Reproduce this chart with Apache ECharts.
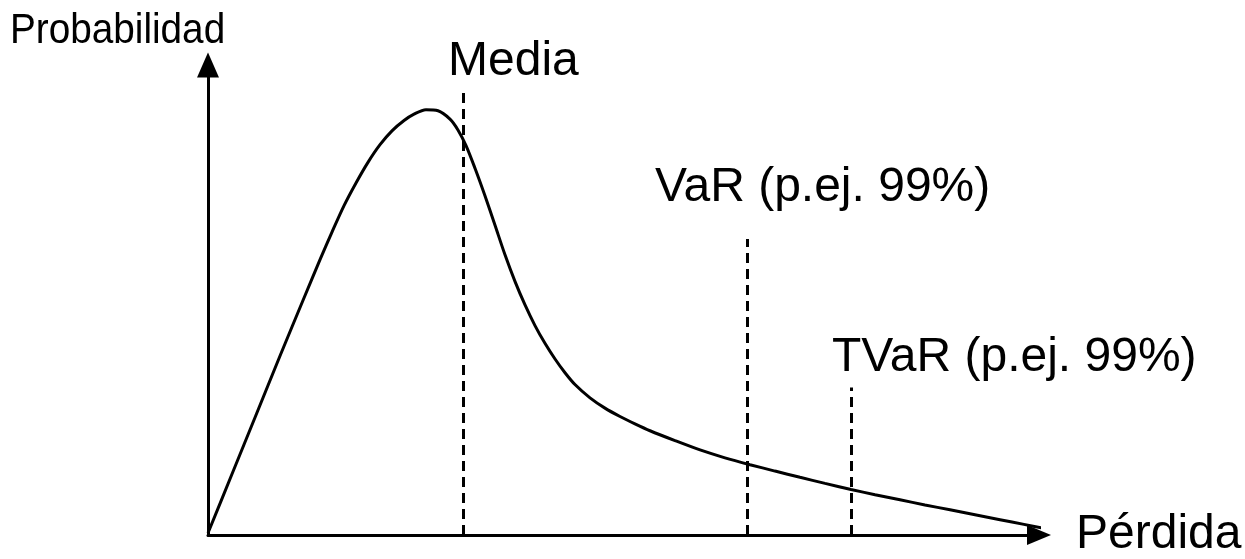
<!DOCTYPE html>
<html>
<head>
<meta charset="utf-8">
<script src="https://cdn.jsdelivr.net/npm/echarts/dist/echarts.min.js"></script>
<style>
html,body{margin:0;padding:0;background:#fff;}
#chart{width:1245px;height:559px;}
</style>
</head>
<body>
<div id="chart"></div>
<script>
// Loss axis (x) and probability density (y), arbitrary units
const lossX = [0, 2.89, 5.78, 8.66, 11.55, 13.48, 14.92, 16.37, 17.81, 19.25, 20.70, 22.14, 23.59, 24.79, 26.23, 27.68, 29.12, 30.08, 31.05, 32.13, 33.33, 34.54, 35.74, 36.94, 38.15, 39.35, 40.55, 41.76, 42.96, 44.16, 45.97, 47.77, 49.58, 51.38, 53.19, 56.20, 59.21, 62.21, 65.22, 68.23, 71.24, 74.25, 77.38, 80.27, 83.27, 86.28, 89.29, 92.30, 95.31, 98.19, 101.08];
const probY = [0.42, 12.97, 25.52, 38.08, 50.42, 58.58, 64.44, 70.08, 74.90, 79.29, 83.05, 85.98, 88.18, 89.54, 90.48, 90.27, 88.49, 86.19, 82.85, 78.03, 72.18, 65.90, 59.62, 53.97, 48.95, 44.56, 40.79, 37.45, 34.52, 32.01, 29.18, 26.99, 25.21, 23.64, 22.18, 20.08, 18.10, 16.42, 14.96, 13.60, 12.28, 10.98, 9.69, 8.58, 7.49, 6.40, 5.36, 4.31, 3.26, 2.26, 1.26];

// Vertical reference markers
const markerNames = ['Media', 'VaR (p.ej. 99%)', 'TVaR (p.ej. 99%)'];
const markerX = [30.7, 64.9, 77.4];
const markerTop = [94.8, 63.0, 31.4];

// Axis titles
const xAxisName = 'Pérdida';
const yAxisName = 'Probabilidad';

const FONT = "'Liberation Sans', Arial, Helvetica, sans-serif";
const FS = 48;

const chart = echarts.init(document.getElementById('chart'), null, {renderer: 'canvas'});

// label placement (layout only): [left, cap-centre y]
const labelPos = [[448, 62], [655, 188], [832, 358]];

const option = {
  backgroundColor: '#ffffff',
  animation: false,
  grid: {left: 208, right: 206, top: 65, bottom: 16, containLabel: false},
  xAxis: {
    type: 'value', min: 0, max: 100,
    name: xAxisName, nameLocation: 'end', nameGap: 37,
    nameTextStyle: {fontFamily: FONT, fontSize: FS, color: '#000', align: 'left', verticalAlign: 'middle', padding: [6, 0, 0, 0]},
    axisLine: {show: true, symbol: ['none', 'triangle'], symbolSize: [20, 24], lineStyle: {color: '#000', width: 3}},
    axisTick: {show: false}, axisLabel: {show: false}, splitLine: {show: false}
  },
  yAxis: {
    type: 'value', min: 0, max: 100,
    axisLine: {show: true, onZero: true, symbol: ['none', 'triangle'], symbolSize: [22, 25], lineStyle: {color: '#000', width: 3}},
    axisTick: {show: false}, axisLabel: {show: false}, splitLine: {show: false}
  },
  series: [{
    type: 'line',
    data: lossX.map((x, i) => [x, probY[i]]),
    smooth: 0.3,
    symbol: 'none',
    clip: false,
    lineStyle: {color: '#000', width: 3},
    markLine: {
      silent: true,
      symbol: ['none', 'none'],
      label: {show: false},
      lineStyle: {color: '#000', width: 3, type: [10, 6]},
      data: markerX.map((x, i) => [{coord: [x, 0]}, {coord: [x, markerTop[i]]}])
    }
  }],
  graphic: [
    {type: 'text', x: 10, y: 31, scaleX: 0.9, scaleY: 1,
     style: {x: 0, y: 0, text: yAxisName, font: '43px ' + FONT, fill: '#000', verticalAlign: 'middle', align: 'left'}}
  ].concat(markerNames.map((n, i) => ({
    type: 'text', x: labelPos[i][0], y: labelPos[i][1],
    style: {text: n, font: FS + 'px ' + FONT, fill: '#000', verticalAlign: 'middle', align: 'left'}
  })))
};
chart.setOption(option);
</script>
</body>
</html>
